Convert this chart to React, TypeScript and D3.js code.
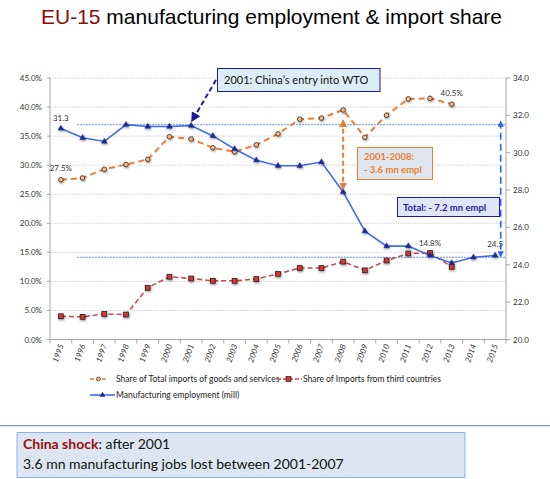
import React from "react";
import * as d3 from "d3";

const years = [
  "1995", "1996", "1997", "1998", "1999", "2000", "2001", "2002", "2003", "2004", "2005",
  "2006", "2007", "2008", "2009", "2010", "2011", "2012", "2013", "2014", "2015",
];

// share of total imports of goods and services (%), left axis
const totalShare: (number | null)[] = [
  27.5, 27.8, 29.3, 30.1, 31.0, 34.9, 34.5, 33.0, 32.3, 33.5, 35.4,
  37.9, 38.1, 39.5, 34.8, 38.6, 41.4, 41.5, 40.5, null, null,
];

// share of imports from third countries (%), left axis
const thirdShare: (number | null)[] = [
  4.0, 3.9, 4.4, 4.3, 8.9, 10.8, 10.5, 10.1, 10.1, 10.4, 11.3,
  12.3, 12.3, 13.4, 11.9, 13.6, 14.8, 14.9, 12.5, null, null,
];

// manufacturing employment (mill), right axis
const employment = [
  31.3, 30.8, 30.6, 31.5, 31.4, 31.4, 31.45, 30.9, 30.2, 29.6, 29.3,
  29.3, 29.5, 27.9, 25.8, 25.0, 25.0, 24.5, 24.1, 24.4, 24.5,
];

const leftTicks = [0, 5, 10, 15, 20, 25, 30, 35, 40, 45];
const rightTicks = [20, 22, 24, 26, 28, 30, 32, 34];
const refLevels = [31.5, 24.4];

const W = 550;
const H = 479;
const plot = { left: 50, right: 506, top: 78, bottom: 339.5 };

const ORANGE = "#ed7d31";
const RED = "#c0504d";
const BLUE = "#3d6cf0";
const NAVY = "#1c1c9c";
const GRID = "#bfbfbf";
const AXIS = "#a6a6a6";
const FONT = "Lato, 'Open Sans', sans-serif";

export default function App() {
  const x = d3.scaleBand().domain(years).range([plot.left, plot.right]);
  const cx = (yr: string) => (x(yr) || 0) + x.bandwidth() / 2;
  const yL = d3.scaleLinear().domain([0, 45]).range([plot.bottom, plot.top]);
  const yR = d3.scaleLinear().domain([20, 34]).range([plot.bottom, plot.top]);

  type P = { yr: string; v: number | null };
  const toPts = (arr: (number | null)[]): P[] => years.map((yr, i) => ({ yr, v: arr[i] }));

  const lineL = d3
    .line<P>()
    .defined((d) => d.v !== null)
    .x((d) => cx(d.yr))
    .y((d) => yL(d.v as number));
  const lineR = d3
    .line<P>()
    .x((d) => cx(d.yr))
    .y((d) => yR(d.v as number));

  const totalPts = toPts(totalShare);
  const thirdPts = toPts(thirdShare);
  const emplPts = toPts(employment);

  const tri = d3.symbol().type(d3.symbolTriangle).size(14)() || "";

  const x2001 = cx("2001");
  const x2008 = cx("2008");
  const i2008 = years.indexOf("2008");
  const i2001 = years.indexOf("2001");
  const xTotalArrow = 500.7;

  return (
    <svg
      width={W}
      height={H}
      style={{ position: "absolute", left: 0, top: 0, background: "#fff" }}
      fontFamily={FONT}
    >
      <defs>
        <filter id="sh" x="-50%" y="-50%" width="200%" height="200%">
          <feDropShadow dx="0.6" dy="1.2" stdDeviation="0.8" floodColor="#000" floodOpacity="0.45" />
        </filter>
        <marker id="navyHead" viewBox="0 0 10 10" refX="8" refY="5" markerWidth="5" markerHeight="5" orient="auto">
          <path d="M0,0 L10,5 L0,10 z" fill={NAVY} />
        </marker>
        <marker id="orHead" viewBox="0 0 10 10" refX="8" refY="5" markerWidth="4" markerHeight="4" orient="auto-start-reverse">
          <path d="M0,0 L10,5 L0,10 z" fill={ORANGE} />
        </marker>
        <marker id="blHead" viewBox="0 0 10 10" refX="8" refY="5" markerWidth="4" markerHeight="4" orient="auto-start-reverse">
          <path d="M0,0 L10,5 L0,10 z" fill="#2f62f5" />
        </marker>
      </defs>

      {/* title */}
      <text x={41} y={24} fontFamily="'Liberation Sans', Arial, sans-serif" fontSize={21} fill="#000">
        <tspan fill="#8b0a0a">EU-15</tspan> manufacturing employment &amp; import share
      </text>

      {/* gridlines */}
      {leftTicks.slice(1).map((t) => (
        <line key={t} x1={plot.left} x2={plot.right} y1={yL(t)} y2={yL(t)} stroke={GRID} strokeWidth={0.8} strokeDasharray="1.2 1.2" />
      ))}

      {/* axes */}
      <line x1={plot.left} x2={plot.left} y1={plot.top} y2={plot.bottom} stroke={AXIS} strokeWidth={1} />
      <line x1={plot.right} x2={plot.right} y1={plot.top} y2={plot.bottom} stroke={AXIS} strokeWidth={1} />
      <line x1={plot.left} x2={plot.right} y1={plot.bottom} y2={plot.bottom} stroke={AXIS} strokeWidth={1} />
      {leftTicks.map((t) => (
        <g key={t}>
          <line x1={plot.left - 3} x2={plot.left} y1={yL(t)} y2={yL(t)} stroke={AXIS} />
          <text x={42} y={yL(t) + 3} fontSize={8} textAnchor="end" fill="#333">
            {t.toFixed(1)}%
          </text>
        </g>
      ))}
      {rightTicks.map((t) => (
        <g key={t}>
          <line x1={plot.right} x2={plot.right + 4} y1={yR(t)} y2={yR(t)} stroke={AXIS} />
          <text x={513} y={yR(t) + 3} fontSize={8} fill="#333">
            {t.toFixed(1)}
          </text>
        </g>
      ))}
      {years.map((yr) => (
        <line key={yr} x1={x(yr) || 0} x2={x(yr) || 0} y1={plot.bottom} y2={plot.bottom + 4} stroke={AXIS} />
      ))}
      <line x1={plot.right} x2={plot.right} y1={plot.bottom} y2={plot.bottom + 4} stroke={AXIS} />
      {years.map((yr) => (
        <text
          key={yr}
          transform={`translate(${cx(yr) + 3},${plot.bottom + 6}) rotate(-70)`}
          fontSize={8}
          fontStyle="italic"
          textAnchor="end"
          fill="#333"
        >
          {yr}
        </text>
      ))}

      {/* reference levels */}
      {refLevels.map((lv) => (
        <line key={lv} x1={77} x2={plot.right} y1={yR(lv)} y2={yR(lv)} stroke="#6f93f7" strokeWidth={1} strokeDasharray="2 1" />
      ))}

      {/* series */}
      <path d={lineL(thirdPts) || ""} fill="none" stroke={RED} strokeWidth={1.6} strokeDasharray="5 3" />
      <path d={lineL(totalPts) || ""} fill="none" stroke={ORANGE} strokeWidth={2} strokeDasharray="6 4" />
      <path d={lineR(emplPts) || ""} fill="none" stroke={BLUE} strokeWidth={1.6} />

      <g filter="url(#sh)">
        {totalPts.filter((d) => d.v !== null).map((d) => (
          <circle key={d.yr} cx={cx(d.yr)} cy={yL(d.v as number)} r={2.3} fill="#f5b88a" stroke="#3a2a20" strokeWidth={0.8} />
        ))}
        {thirdPts.filter((d) => d.v !== null).map((d) => (
          <rect key={d.yr} x={cx(d.yr) - 2.4} y={yL(d.v as number) - 2.4} width={4.8} height={4.8} fill="#e03030" stroke="#222" strokeWidth={0.8} />
        ))}
        {emplPts.map((d) => (
          <path key={d.yr} d={tri} transform={`translate(${cx(d.yr)},${yR(d.v as number)})`} fill="#1a2a8a" stroke="#1a2a8a" strokeWidth={0.5} />
        ))}
      </g>

      {/* data labels */}
      <text x={cx("1995")} y={121} fontSize={8} textAnchor="middle" fill="#333">31.3</text>
      <text x={cx("1995")} y={171} fontSize={8} textAnchor="middle" fill="#333">27.5%</text>
      <text x={cx("2013")} y={96} fontSize={8} textAnchor="middle" fill="#333">40.5%</text>
      <text x={cx("2012")} y={246} fontSize={8} textAnchor="middle" fill="#333">14.8%</text>
      <text x={cx("2015")} y={247} fontSize={8} textAnchor="middle" fill="#333">24.5</text>

      {/* WTO callout */}
      <line x1={216} y1={80} x2={x2001 + 1} y2={yR(employment[i2001]) - 5} stroke={NAVY} strokeWidth={2} strokeDasharray="5 3" markerEnd="url(#navyHead)" />
      <rect x={217.5} y={68.5} width={162.5} height={23} fill="#dbeef8" stroke={NAVY} strokeWidth={1} />
      <text x={224} y={83.5} fontSize={11} fill="#111">2001: China’s entry into WTO</text>

      {/* 2001-2008 arrow */}
      <line
        x1={x2008}
        x2={x2008}
        y1={yR(refLevels[0]) - 4}
        y2={yR(employment[i2008]) - 3}
        stroke={ORANGE}
        strokeWidth={2}
        strokeDasharray="5 3"
        markerStart="url(#orHead)"
        markerEnd="url(#orHead)"
      />
      <rect x={357.5} y={147.5} width={75} height={32} fill="#dfe6f0" stroke={ORANGE} strokeWidth={1} />
      <text x={364} y={160} fontSize={9.5} fontWeight="bold" fill={ORANGE}>2001-2008:</text>
      <text x={364} y={172.5} fontSize={9.5} fontWeight="bold" fill={ORANGE}>- 3.6 mn empl</text>

      {/* total arrow */}
      <line
        x1={xTotalArrow}
        x2={xTotalArrow}
        y1={yR(refLevels[0]) - 3}
        y2={yR(refLevels[1]) - 1}
        stroke="#2f62f5"
        strokeWidth={1.6}
        strokeDasharray="7 4"
        markerStart="url(#blHead)"
        markerEnd="url(#blHead)"
      />
      <rect x={397.5} y={197.5} width={102} height={19} fill="#dfe6f8" stroke={NAVY} strokeWidth={1} />
      <text x={403} y={210.5} fontSize={9.5} fontWeight="bold" fill={NAVY}>Total: - 7.2 mn empl</text>

      {/* legend */}
      <line x1={90} x2={107} y1={379} y2={379} stroke={ORANGE} strokeWidth={1.6} strokeDasharray="4 2" />
      <circle cx={98.5} cy={379} r={2} fill="#f5b88a" stroke="#3a2a20" strokeWidth={0.7} />
      <text x={116} y={382} fontSize={8.5} fill="#222">Share of Total imports of goods and services</text>
      <line x1={277} x2={302} y1={379} y2={379} stroke={RED} strokeWidth={1.4} strokeDasharray="4 2" />
      <rect x={286} y={376.5} width={5} height={5} fill="#e03030" stroke="#222" strokeWidth={0.7} />
      <text x={303} y={382} fontSize={8.5} fill="#222">Share of Imports from third countries</text>
      <line x1={90} x2={115} y1={395} y2={395} stroke={BLUE} strokeWidth={1.6} />
      <path d={tri} transform="translate(102.5,395)" fill="#1a2a8a" />
      <text x={116} y={398} fontSize={8.5} fill="#222">Manufacturing employment (mill)</text>

      {/* bottom note */}
      <line x1={0} x2={W} y1={425.7} y2={425.7} stroke="#7f9fd0" strokeWidth={1.2} />
      <rect x={17} y={432.5} width={448} height={45} fill="#dce6f2" stroke="#8eb4e3" strokeWidth={1} />
      <text x={23} y={449} fontSize={14} fill="#111">
        <tspan fill="#9b0d0d" fontWeight="bold">China shock</tspan>: after 2001
      </text>
      <text x={23} y={469} fontSize={14} fill="#111">3.6 mn manufacturing jobs lost between 2001-2007</text>
    </svg>
  );
}
